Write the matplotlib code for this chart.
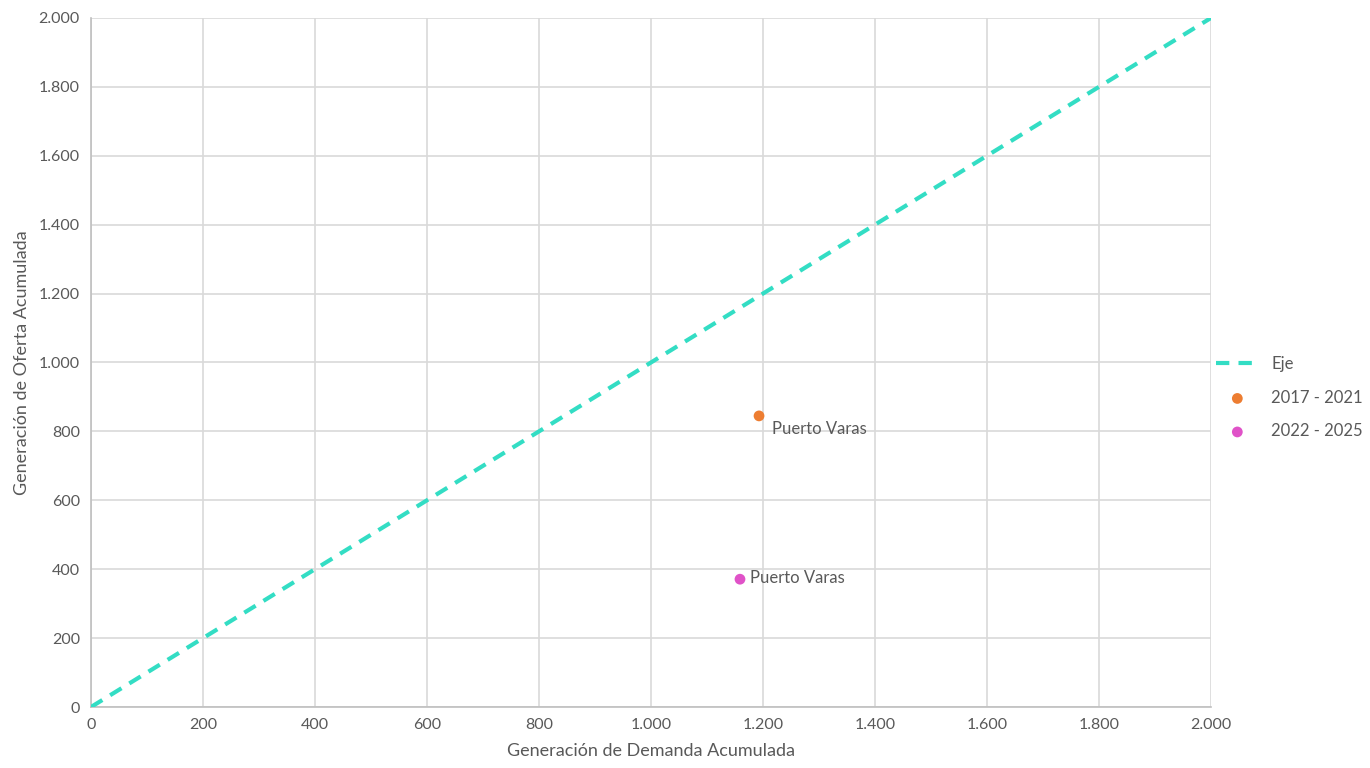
import matplotlib
matplotlib.use("Agg")
import matplotlib.pyplot as plt
from matplotlib.ticker import FuncFormatter, MultipleLocator

plt.rcParams['font.family'] = ['Lato', 'DejaVu Sans']

axis_line = [0, 2000]
s1_name = "2017 - 2021"
s1_x = [1193]
s1_y = [845]
s1_labels = ["Puerto Varas"]
s2_name = "2022 - 2025"
s2_x = [1159]
s2_y = [371]
s2_labels = ["Puerto Varas"]

fig = plt.figure(figsize=(13.7, 7.68), dpi=100)
ax = fig.add_axes([0.0664, 0.0794, 0.8175, 0.8972])

txt = '#595959'
ax.plot(axis_line, axis_line, linestyle=(0, (3.2, 2.2)), color='#33DDC4', lw=3, label='Eje', zorder=3)
ax.scatter(s1_x, s1_y, s=60, color='#ED7D31', label=s1_name, zorder=4, edgecolors='none')
ax.scatter(s2_x, s2_y, s=60, color='#E052C8', label=s2_name, zorder=4, edgecolors='none')
for x, y, l in zip(s1_x, s1_y, s1_labels):
    ax.annotate(l, (x, y), xytext=(9, -15), textcoords='offset points', fontsize=12, color=txt, va='bottom')
for x, y, l in zip(s2_x, s2_y, s2_labels):
    ax.annotate(l, (x, y), xytext=(7.5, 1), textcoords='offset points', fontsize=12, color=txt, va='center')

ax.set_xlim(0, 2000)
ax.set_ylim(0, 2000)
ax.xaxis.set_major_locator(MultipleLocator(200))
ax.yaxis.set_major_locator(MultipleLocator(200))
fmt = FuncFormatter(lambda v, p: f"{int(v):,}".replace(",", "."))
ax.xaxis.set_major_formatter(fmt)
ax.yaxis.set_major_formatter(fmt)
ax.grid(True, color='#D9D9D9', lw=1.2)
ax.set_axisbelow(True)
for s in ['top', 'right']:
    ax.spines[s].set_visible(False)
for s in ['left', 'bottom']:
    ax.spines[s].set_color('#BFBFBF')
    ax.spines[s].set_linewidth(1.2)
ax.tick_params(length=0, colors=txt, labelsize=11.5, pad=8)
ax.set_xlabel('Generación de Demanda Acumulada', fontsize=13, color=txt, labelpad=8)
ax.set_ylabel('Generación de Oferta Acumulada', fontsize=13, color=txt, labelpad=6)

leg = fig.legend(loc='center left', bbox_to_anchor=(0.877, 0.482), frameon=False, fontsize=12,
                 labelcolor=txt, handlelength=2.5, labelspacing=1.05, handletextpad=0.8)

fig.savefig('out.png', dpi=100)
